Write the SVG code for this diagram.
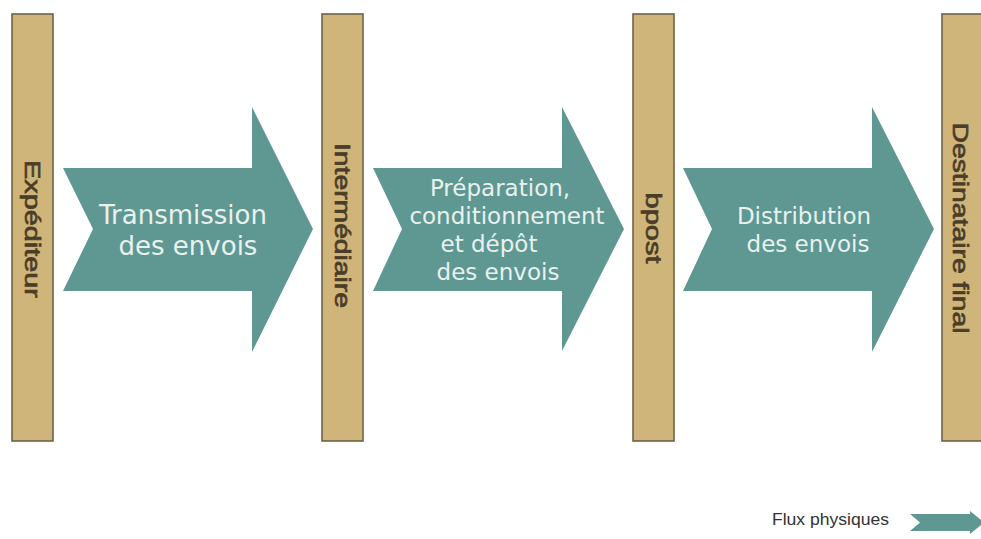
<svg xmlns="http://www.w3.org/2000/svg" width="981" height="539" viewBox="0 0 981 539">
<style>
.bar{fill:#cfb57a;stroke:#6e6249;stroke-width:1.6}
.arrow{fill:#5f9892}
.vt{font-family:"Liberation Sans",Arial,sans-serif;font-size:22px;fill:#4a3d27;stroke:#4a3d27;stroke-width:0.7;text-anchor:middle}
.at{font-family:"DejaVu Sans",Verdana,sans-serif;fill:#e9f1ee;text-anchor:middle}
.lg{font-family:"Liberation Sans",Arial,sans-serif;font-size:17px;fill:#333333}
</style>
<rect width="981" height="539" fill="#ffffff"/>
<g id="connectors">
  <g id="arrow-transmission">
    <polygon class="arrow" points="63,168 252,168 252,107 313,229 252,352 252,291 63,291 93,229"/>
    <text class="at" font-size="26" x="183" y="224">Transmission</text>
    <text class="at" font-size="26" x="188" y="255">des envois</text>
  </g>
  <g id="arrow-preparation">
    <polygon class="arrow" points="373,168 562,168 562,107 624,229 562,351 562,291 373,291 402,229"/>
    <text class="at" font-size="23" x="500" y="196">Préparation,</text>
    <text class="at" font-size="23" x="507" y="224">conditionnement</text>
    <text class="at" font-size="23" x="489" y="252">et dépôt</text>
    <text class="at" font-size="23" x="498" y="280">des envois</text>
  </g>
  <g id="arrow-distribution">
    <polygon class="arrow" points="683,168 872,168 872,107 934,229 872,352 872,291 683,291 712,229"/>
    <text class="at" font-size="23" x="804" y="224">Distribution</text>
    <text class="at" font-size="23" x="808" y="252">des envois</text>
  </g>
</g>
<g id="node-expediteur">
  <rect class="bar" x="12" y="14" width="41" height="427"/>
  <text class="vt" transform="translate(25,229) rotate(90)" textLength="138" lengthAdjust="spacingAndGlyphs">Expéditeur</text>
</g>
<g id="node-intermediaire">
  <rect class="bar" x="322" y="14" width="41" height="427"/>
  <text class="vt" transform="translate(335,225.5) rotate(90)" textLength="165" lengthAdjust="spacingAndGlyphs">Intermédiaire</text>
</g>
<g id="node-bpost">
  <rect class="bar" x="633" y="14" width="41" height="427"/>
  <text class="vt" transform="translate(646,228) rotate(90)" textLength="71" lengthAdjust="spacingAndGlyphs">bpost</text>
</g>
<g id="node-destinataire">
  <rect class="bar" x="942" y="14" width="42" height="427"/>
  <text class="vt" transform="translate(953,228) rotate(90)" textLength="211" lengthAdjust="spacingAndGlyphs">Destinataire final</text>
</g>
<g id="legend">
  <text class="lg" x="772" y="525" textLength="117" lengthAdjust="spacingAndGlyphs">Flux physiques</text>
  <polygon class="arrow" points="910,514 970,514 970,511 984,522.5 970,534 970,531 910,531 920,522.5"/>
</g>
</svg>
